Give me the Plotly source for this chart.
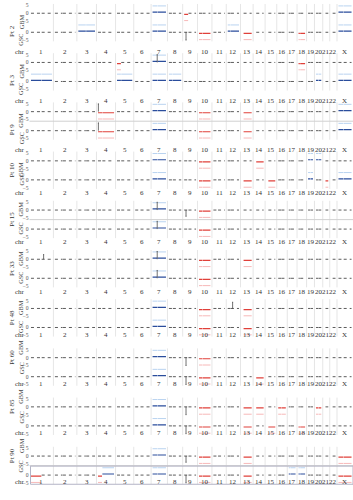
import plotly.graph_objects as go

# ---------------- data ----------------
chroms = [str(i) for i in range(1, 23)] + ["X"]
chrom_len = [249, 243, 198, 191, 181, 171, 159, 146, 141, 136, 135, 134,
             115, 107, 103, 90, 81, 78, 59, 63, 48, 51, 155]
centromere = [125, 93, 91, 50, 48, 61, 60, 45, 49, 40, 53, 36,
              17, 17, 19, 36, 24, 18, 27, 28, 13, 15, 60]
acrocentric = ["13", "14", "15", "21", "22"]

patients = ["Pt 2", "Pt 3", "Pt 9", "Pt 10", "Pt 15",
            "Pt 33", "Pt 48", "Pt 60", "Pt 85", "Pt 90"]
tracks = ["GBM", "GSC"]

gbm_gain = [["7", "X"], ["7"], ["7", "X"], ["7", "19", "20"], ["7"],
            ["7"], ["7"], ["7"], ["7"], ["7"]]
gbm_loss = [["9p"], ["5p", "18"], ["4", "10", "13"], ["10", "14"], ["10"],
            ["10", "13"], ["10", "13"], ["10"], ["10", "13", "14", "16", "20"],
            ["10", "13", "X"]]
gsc_gain = [["3", "7", "12", "X"], ["1", "5", "7", "8", "20", "X"], ["7", "X"],
            ["7", "19", "X"], ["7"], ["7"], ["7"], ["7"], ["7"],
            ["4q", "7", "17", "18"]]
gsc_loss = [["10", "13", "18"], ["5p"], ["4", "10", "13"], ["10", "13", "15", "21"],
            ["10"], ["10"], ["10", "13"], ["10", "14"], ["10", "13", "15", "18"],
            ["1p", "4p", "10", "13", "X"]]
gain_level = 0.7
loss_level = -0.7
# focal events: (patient index, track index, chromosome, position Mb, log ratio)
focal = [(0, 1, "9", 22, -5), (1, 0, "7", 55, 5), (2, 0, "4", 5, 5), (2, 1, "4", 5, 5),
         (4, 0, "7", 55, 5), (4, 1, "7", 55, 5), (4, 0, "9", 22, -4),
         (5, 0, "7", 55, 5), (5, 1, "7", 55, 5), (5, 0, "1", 150, 3),
         (6, 0, "12", 58, 4), (7, 0, "9", 22, -5), (7, 1, "9", 22, -5),
         (8, 0, "9", 22, -5), (8, 1, "9", 22, -5), (9, 0, "9", 22, -4), (9, 1, "9", 22, -5)]
# panels with a grey rule between the two tracks
ruled_panels = [2, 4, 9]
boxed_panel = 9

# ---------------- geometry ----------------
W, H = 353, 500
GAP = 35
starts = {}
p = 0
for c, L in zip(chroms, chrom_len):
    starts[c] = p
    p += L + GAP
total = p - GAP
xr = [-GAP / 2, total + GAP / 2]
XL = 29.5

PITCH = 49.4
HALF = 9.4       # px for 6 units
FONT = "Liberation Serif"
GREY = "#4a4a4a"
BLUE = "#2a4d9c"
RED = "#e0403a"
LBLUE = "#b9d3f0"
LRED = "#f7b8b8"


def ypap(px):
    return 1 - px / H


fig = go.Figure()
shapes = []
annotations = []
layout_axes = {}

for i, pt in enumerate(patients):
    T = i * PITCH
    centers = [T + 12.3, T + 31.4]
    gains_all = [gbm_gain[i], gsc_gain[i]]
    losses_all = [gbm_loss[i], gsc_loss[i]]
    for j in range(2):
        k = 2 * i + j + 1
        yname = "y" if k == 1 else f"y{k}"
        yc = centers[j]
        tv = [-5, 0, 5] if j == 0 else [-5, 0]
        tt = ["\u22125", "0", "5"] if j == 0 else ["\u22125", "0"]
        layout_axes["yaxis" if k == 1 else f"yaxis{k}"] = dict(
            domain=[ypap(yc + HALF), ypap(yc - HALF)], range=[-6, 6], anchor="x",
            tickvals=tv, ticktext=tt,
            tickfont=dict(size=5.6, color="#555", family=FONT),
            showgrid=False, zeroline=False, showline=False, ticks="", ticklen=0,
        )
        gains, losses = gains_all[j], losses_all[j]
        seg = {"n": ([], []), "g": ([], []), "l": ([], []), "lg": ([], []), "ll": ([], [])}
        for c, L, cen in zip(chroms, chrom_len, centromere):
            s = starts[c]
            arms = [("q", cen + 2, L)] if c in acrocentric else [("p", 0, cen - 2), ("q", cen + 2, L)]
            for arm, a0, a1 in arms:
                tag = c + arm
                if c in gains or tag in gains:
                    key, v = "g", gain_level
                    seg["lg"][0].extend([s + a0, s + a1, None])
                    seg["lg"][1].extend([4.7, 4.7, None])
                elif c in losses or tag in losses:
                    key, v = "l", loss_level
                    seg["ll"][0].extend([s + a0, s + a1, None])
                    seg["ll"][1].extend([-4.7, -4.7, None])
                else:
                    key, v = "n", 0
                seg[key][0].extend([s + a0, s + a1, None])
                seg[key][1].extend([v, v, None])
        styles = {"lg": dict(color=LBLUE, width=1), "ll": dict(color=LRED, width=1),
                  "n": dict(color=GREY, width=0.9, dash="dot"),
                  "g": dict(color=BLUE, width=1.2), "l": dict(color=RED, width=1.2)}
        for key in ["lg", "ll", "n", "g", "l"]:
            xs, ys = seg[key]
            if xs:
                fig.add_trace(go.Scatter(x=xs, y=ys, xaxis="x", yaxis=yname, mode="lines",
                                         line=styles[key], hoverinfo="skip", showlegend=False))
        fx, fy = [], []
        for (pi, tj, c, pos, val) in focal:
            if pi == i and tj == j:
                xx = starts[c] + pos
                fx.extend([xx, xx, None, xx - 6, xx + 6, None])
                fy.extend([0, val, None, val, val, None])
        if fx:
            fig.add_trace(go.Scatter(x=fx, y=fy, xaxis="x", yaxis=yname, mode="lines",
                                     line=dict(color="#333", width=0.7), hoverinfo="skip",
                                     showlegend=False))
        annotations.append(dict(text=tracks[j], x=15.5 / W, y=ypap(yc - 0.5), xref="paper",
                                yref="paper", textangle=-90, showarrow=False,
                                font=dict(size=6.3, family=FONT, color="#444")))
    # separators
    for c in chroms[1:]:
        xx = starts[c] - GAP / 2
        shapes.append(dict(type="line", xref="x", yref="paper", x0=xx, x1=xx,
                           y0=ypap(T + 40.5), y1=ypap(T + 3), line=dict(color="#e0e0e0", width=0.8)))
    if i in ruled_panels:
        yy = ypap(T + 21.9)
        shapes.append(dict(type="line", xref="paper", yref="paper", x0=XL / W, x1=1,
                           y0=yy, y1=yy, line=dict(color="#d0d0d0", width=1)))
    if i == boxed_panel:
        shapes.append(dict(type="rect", xref="paper", yref="paper", x0=(XL + 1) / W, x1=1,
                           y0=ypap(T + 40.6), y1=ypap(T + 22.4),
                           line=dict(color="#b4b4c6", width=1)))
    # chromosome labels
    ylab = ypap(T + 44.8)
    for c, L in zip(chroms, chrom_len):
        annotations.append(dict(text=c, x=starts[c] + L / 2, y=ylab, xref="x", yref="paper",
                                showarrow=False, font=dict(size=7, family=FONT, color="#333")))
    annotations.append(dict(text="chr", x=13.0 / W, y=ylab, xref="paper", yref="paper",
                            showarrow=False, font=dict(size=7, family=FONT, color="#333")))
    annotations.append(dict(text=pt, x=6.0 / W, y=ypap(T + 22), xref="paper", yref="paper",
                            textangle=-90, showarrow=False,
                            font=dict(size=7, family=FONT, color="#333")))

fig.update_layout(
    width=W, height=H, margin=dict(l=0, r=0, t=0, b=0),
    paper_bgcolor="white", plot_bgcolor="white",
    xaxis=dict(domain=[XL / W, 1], range=xr, visible=False, anchor="y"),
    shapes=shapes, annotations=annotations, showlegend=False,
    **layout_axes,
)
fig.write_html("out.html")
